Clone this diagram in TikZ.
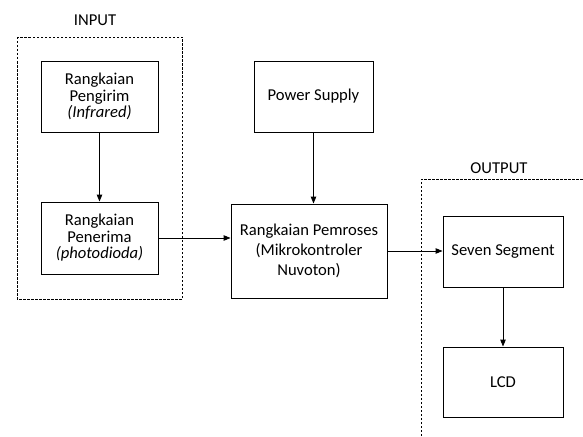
\documentclass[tikz,border=0pt]{standalone}
\usepackage{fontspec}
\setmainfont{Carlito}
\usetikzlibrary{arrows.meta}
\begin{document}
\begin{tikzpicture}[x=1pt,y=-1pt,
  blk/.style={draw,line width=0.9pt,align=center,inner sep=0pt,font=\fontsize{16.6}{16.5}\selectfont},
  grp/.style={draw,line width=0.75pt,dash pattern=on 2.5pt off 1.5pt},
  lbl/.style={font=\fontsize{16.6}{16.5}\selectfont,inner sep=0pt},
  arr/.style={line width=0.9pt,-{Triangle[length=7pt,width=5.5pt]}}]
\useasboundingbox (0,0) rectangle (583,436);
\draw[grp] (17,37) rectangle (182,299);
\draw[grp] (421,436) -- (421,179) -- (583,179);
\node[lbl] (inl) at (95,20) {INPUT};
\node[lbl] (outl) at (499,168) {OUTPUT};
\node[blk,minimum width=117pt,minimum height=71pt] (tx) at (99.5,96.5) {Rangkaian\\Pengirim\\\textit{(Infrared)}};
\node[blk,minimum width=117pt,minimum height=72pt] (rx) at (99.5,238) {Rangkaian\\Penerima\\\textit{(photodioda)}};
\node[blk,minimum width=119pt,minimum height=71pt] (ps) at (313.5,96.5) {Power Supply};
\node[blk,minimum width=156pt,minimum height=94pt,font=\fontsize{16.6}{20}\selectfont] (mc) at (309,251) {Rangkaian Pemroses\\(Mikrokontroler\\Nuvoton)};
\node[blk,minimum width=120pt,minimum height=71pt] (ss) at (503,251.5) {Seven Segment};
\node[blk,minimum width=120pt,minimum height=70pt] (lcd) at (503,382) {LCD};
\draw[arr] (tx) -- (rx);
\draw[arr] (rx.east) -- (rx.east -| mc.west);
\draw[arr] (ps.south) -- (ps.south |- mc.north);
\draw[arr] (mc.east) -- (mc.east -| ss.west);
\draw[arr] (ss) -- (lcd);
\end{tikzpicture}
\end{document}
